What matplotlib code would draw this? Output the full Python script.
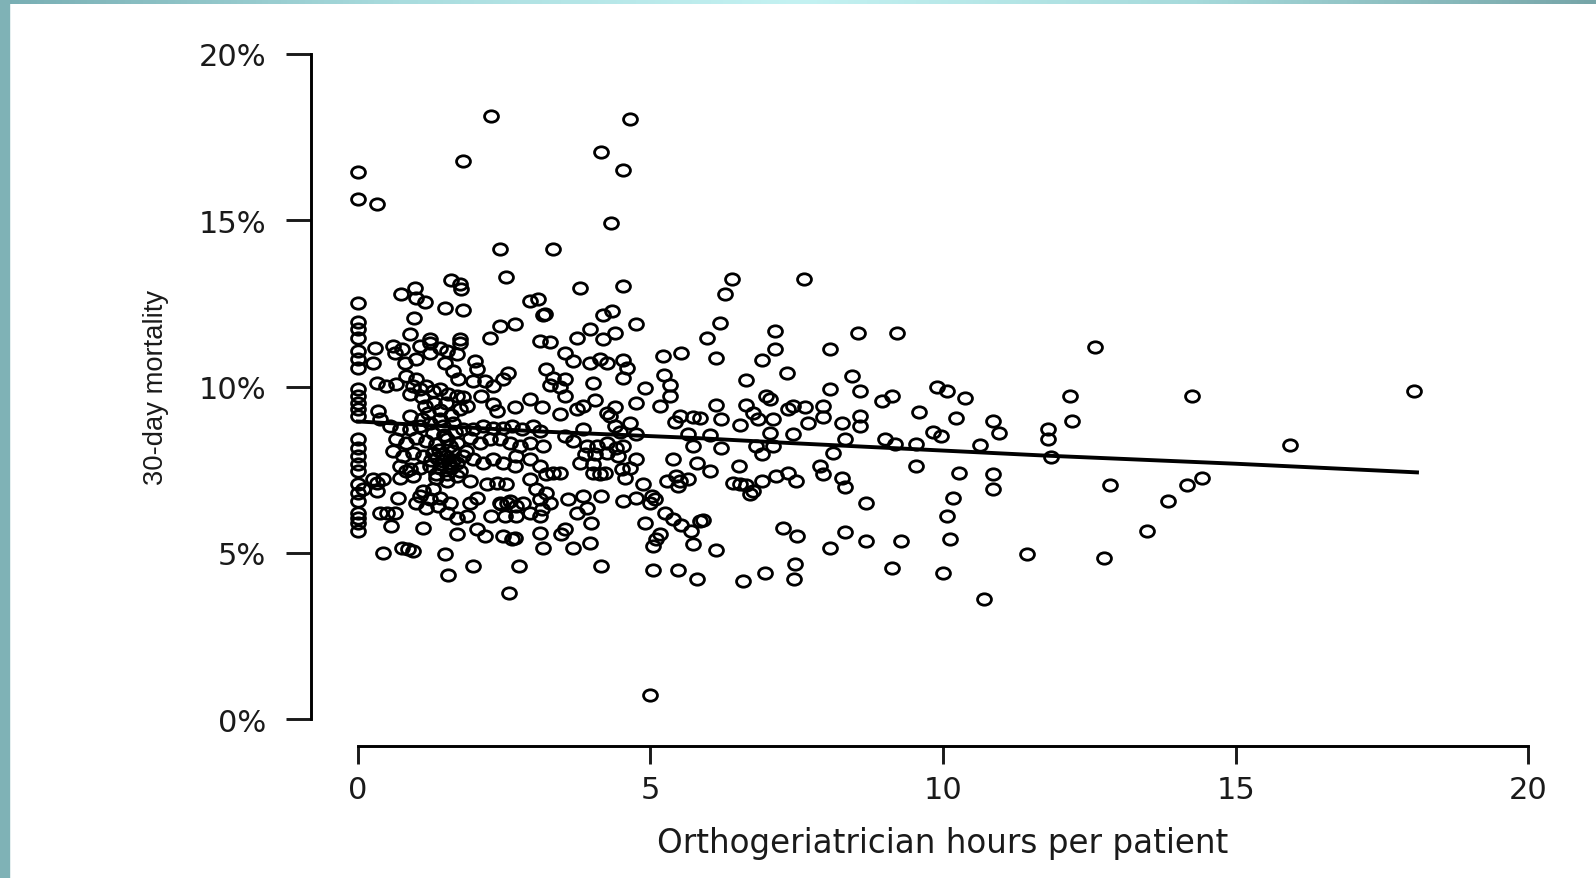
import numpy as np
import matplotlib.pyplot as plt
from matplotlib.path import Path
from matplotlib.patches import Rectangle
from matplotlib.colors import LinearSegmentedColormap
#-----------------------------------------------------------------------------------------#

# hospitals with no orthogeriatrician time (hours = 0)
mort_zero_hours = [16.43, 15.63, 12.50, 11.93, 11.73, 11.47, 11.07, 10.82, 10.57, 9.92,
                   9.72, 9.51, 9.31, 9.11, 8.41, 8.16, 7.91, 7.66, 7.46, 7.06, 6.81,
                   6.56, 6.21, 6.06, 5.91, 5.66]

# (hours per patient, 30-day mortality %) grouped by hours band
band_0_1 = [(0.32, 15.48), (0.09, 6.91), (0.32, 6.86), (0.32, 7.11), (0.26, 7.21), (0.43, 7.21),
            (0.72, 7.26), (0.94, 7.31), (0.83, 7.46), (0.69, 6.66), (0.38, 6.21), (0.50, 6.21),
            (0.63, 6.21), (0.57, 5.81), (0.43, 5.01), (0.75, 5.16), (0.86, 5.11), (0.94, 5.06),
            (0.97, 12.97), (0.73, 12.77), (1.00, 12.67), (0.96, 12.07), (0.89, 11.57), (0.60, 11.22),
            (0.63, 11.02), (0.75, 11.12), (0.29, 11.17), (0.26, 10.72), (0.80, 10.72), (1.00, 10.82),
            (0.32, 10.12), (0.49, 10.02), (0.66, 10.07), (0.83, 10.32), (1.00, 10.22), (0.94, 10.02),
            (0.89, 9.77), (0.35, 9.27), (0.38, 9.01), (0.55, 8.81), (0.72, 8.71), (0.89, 9.11),
            (0.89, 8.71), (0.66, 8.41), (0.83, 8.31), (1.00, 8.46), (0.60, 8.06), (0.78, 7.91),
            (0.94, 8.01), (0.72, 7.61), (0.89, 7.51), (1.00, 6.51)]

band_1_3 = [(1.80, 16.78), (2.27, 18.13), (2.43, 14.12), (2.54, 13.30), (1.60, 13.19), (1.74, 13.07),
            (1.77, 12.92), (1.14, 12.55), (1.49, 12.35), (1.80, 12.29), (2.94, 12.57), (3.08, 12.64),
            (2.43, 11.82), (2.68, 11.87), (1.23, 11.44), (1.74, 11.42), (2.26, 11.47), (1.06, 11.22),
            (1.23, 11.32), (1.40, 11.17), (1.52, 11.07), (1.69, 10.97), (1.74, 11.32), (1.23, 11.02),
            (1.49, 10.72), (1.63, 10.47), (1.71, 10.22), (2.00, 10.77), (2.03, 10.52), (1.97, 10.17),
            (2.57, 10.42), (2.48, 10.22), (2.17, 10.17), (2.31, 10.02), (1.17, 10.02), (1.29, 9.87),
            (1.06, 9.92), (1.09, 9.67), (1.40, 9.92), (1.54, 9.77), (1.69, 9.72), (1.80, 9.67),
            (1.86, 9.42), (1.74, 9.31), (2.11, 9.72), (2.31, 9.47), (2.37, 9.27), (2.68, 9.37),
            (2.94, 9.62), (1.09, 9.01), (1.23, 8.91), (1.40, 9.01), (1.46, 8.81), (1.63, 8.91),
            (1.06, 8.81), (1.80, 8.71), (1.97, 8.71), (2.14, 8.81), (2.31, 8.76), (2.48, 8.76),
            (2.63, 8.81), (2.80, 8.71), (3.00, 8.81), (1.17, 8.36), (1.34, 8.26), (1.52, 8.41),
            (1.69, 8.31), (1.91, 8.46), (2.08, 8.31), (2.26, 8.41), (2.43, 8.41), (2.60, 8.31),
            (2.77, 8.21), (2.94, 8.31), (1.12, 7.91), (1.29, 8.01), (1.46, 7.96), (1.63, 8.06),
            (1.80, 7.91), (1.97, 7.81), (2.14, 7.71), (2.31, 7.81), (2.48, 7.71), (2.68, 7.61),
            (1.06, 7.56), (1.23, 7.61), (1.40, 7.56), (1.57, 7.61), (1.74, 7.46), (1.34, 7.36),
            (1.52, 7.36), (2.71, 7.91), (2.94, 7.81), (1.12, 5.76), (1.49, 4.96), (1.54, 4.33),
            (1.96, 4.61), (2.76, 4.61), (2.59, 3.79), (1.69, 5.56), (2.03, 5.71), (2.17, 5.51),
            (2.48, 5.51), (2.63, 5.41), (2.68, 5.46), (2.28, 6.11), (2.51, 6.11), (2.71, 6.11),
            (1.17, 6.36), (1.37, 6.41), (1.52, 6.21), (1.69, 6.06), (1.86, 6.11), (1.06, 6.71),
            (1.23, 6.61), (1.40, 6.66), (1.57, 6.51), (1.12, 6.86), (1.29, 6.91), (1.91, 6.51),
            (2.03, 6.66), (2.20, 7.06), (2.37, 7.11), (2.54, 7.06), (2.43, 6.51), (2.60, 6.56),
            (2.71, 6.41), (2.83, 6.51), (2.94, 6.21), (1.91, 7.16), (1.69, 7.31), (1.52, 7.16),
            (1.34, 7.26), (2.94, 7.21), (3.05, 6.91), (1.45, 7.75), (1.55, 7.70), (1.62, 7.80),
            (1.35, 7.85), (1.50, 7.90), (1.40, 9.30), (1.30, 9.50), (1.20, 9.20), (1.50, 9.50),
            (2.45, 6.48), (2.55, 6.50), (1.38, 8.10), (1.58, 8.20), (1.28, 8.60), (1.48, 8.55),
            (1.66, 8.62), (1.85, 8.05), (1.42, 7.68), (1.60, 7.55), (1.25, 7.80), (1.70, 7.70),
            (1.15, 9.40), (1.60, 9.15)]

band_3_5 = [(4.16, 17.05), (4.65, 18.05), (4.53, 16.50), (4.32, 14.92), (3.33, 14.12), (3.80, 12.95),
            (4.53, 13.02), (3.17, 12.15), (4.19, 12.14), (4.35, 12.27), (4.75, 11.87), (3.20, 12.17),
            (3.96, 11.74), (3.74, 11.47), (4.39, 11.62), (4.19, 11.42), (3.11, 11.37), (3.28, 11.34),
            (3.54, 11.02), (3.68, 10.77), (3.96, 10.72), (4.14, 10.82), (4.25, 10.72), (4.53, 10.80),
            (4.60, 10.57), (4.53, 10.25), (3.22, 10.52), (3.34, 10.27), (3.54, 10.24), (3.28, 10.04),
            (3.45, 9.97), (3.54, 9.71), (4.02, 10.12), (4.90, 9.94), (4.76, 9.51), (4.05, 9.59),
            (3.14, 9.37), (3.45, 9.16), (3.74, 9.31), (3.85, 9.40), (4.25, 9.21), (4.39, 9.37),
            (4.31, 9.11), (4.65, 8.89), (3.85, 8.71), (4.76, 8.56), (4.39, 8.81), (4.48, 8.63),
            (3.54, 8.51), (3.68, 8.36), (3.11, 8.66), (3.91, 8.21), (4.08, 8.21), (4.25, 8.31),
            (4.42, 8.16), (4.53, 8.21), (3.88, 7.96), (4.05, 7.96), (4.25, 7.99), (4.45, 7.91),
            (3.79, 7.71), (4.02, 7.66), (4.22, 7.41), (4.14, 7.36), (4.02, 7.41), (4.76, 7.83),
            (4.65, 7.56), (4.51, 7.51), (4.56, 7.26), (3.11, 7.61), (3.34, 7.41), (3.45, 7.41),
            (3.22, 7.36), (4.88, 7.06), (3.22, 6.81), (3.11, 6.61), (3.14, 6.31), (3.28, 6.51),
            (3.59, 6.61), (3.85, 6.71), (4.16, 6.71), (3.91, 6.36), (3.74, 6.21), (4.53, 6.56),
            (4.76, 6.66), (3.11, 6.11), (3.11, 5.61), (3.17, 5.16), (3.54, 5.71), (3.48, 5.56),
            (3.68, 5.16), (3.96, 5.31), (3.99, 5.91), (4.90, 5.91), (4.16, 4.61), (3.17, 8.21)]

band_5_8 = [(5.02, 6.71), (5.08, 6.61), (5.00, 6.51), (4.99, 0.73), (5.22, 10.92), (5.53, 11.00),
            (5.23, 10.34), (5.33, 10.04), (5.33, 9.71), (5.16, 9.41), (6.19, 11.90), (5.96, 11.47),
            (7.13, 11.67), (7.13, 11.14), (6.90, 10.80), (7.33, 10.40), (6.12, 10.87), (6.64, 10.19),
            (6.12, 9.44), (6.64, 9.44), (6.98, 9.71), (7.04, 9.62), (7.35, 9.31), (7.44, 9.41),
            (6.76, 9.21), (6.84, 9.01), (5.50, 9.11), (5.73, 9.09), (5.84, 9.04), (5.42, 8.92),
            (6.21, 9.01), (6.53, 8.83), (7.10, 9.03), (7.04, 8.61), (7.44, 8.56), (5.64, 8.56),
            (6.02, 8.53), (5.73, 8.21), (6.21, 8.16), (6.81, 8.21), (7.10, 8.21), (6.90, 7.96),
            (5.38, 7.81), (5.79, 7.71), (6.02, 7.46), (6.52, 7.61), (5.28, 7.16), (5.44, 7.31),
            (5.50, 7.16), (5.64, 7.21), (5.47, 7.01), (6.41, 7.11), (6.53, 7.08), (6.64, 7.05),
            (6.76, 6.86), (6.70, 6.76), (6.90, 7.16), (7.15, 7.31), (7.35, 7.41), (7.48, 7.16),
            (5.25, 6.21), (5.39, 6.01), (5.53, 5.83), (5.70, 5.66), (5.90, 5.99), (5.84, 5.96),
            (5.16, 5.56), (5.10, 5.41), (5.05, 5.21), (5.73, 5.26), (6.12, 5.09), (7.27, 5.76),
            (7.50, 5.51), (5.05, 4.49), (5.47, 4.49), (5.79, 4.21), (6.58, 4.16), (6.95, 4.41),
            (7.47, 4.66), (6.40, 13.24), (6.28, 12.78), (7.62, 13.24)]

band_8_up = [(8.54, 11.62), (9.22, 11.62), (8.07, 11.12), (8.44, 10.32), (8.07, 9.92), (8.59, 9.85),
             (9.89, 9.97), (10.06, 9.85), (10.37, 9.65), (8.95, 9.57), (9.12, 9.71), (7.64, 9.37),
             (7.95, 9.41), (7.95, 9.09), (7.70, 8.89), (8.27, 8.89), (8.59, 9.11), (8.59, 8.81),
             (9.59, 9.23), (10.23, 9.04), (10.86, 8.96), (10.96, 8.61), (9.83, 8.63), (9.97, 8.51),
             (8.32, 8.41), (9.01, 8.43), (9.18, 8.26), (9.54, 8.26), (10.64, 8.23), (11.80, 8.71),
             (11.80, 8.41), (8.12, 7.99), (7.89, 7.61), (7.95, 7.36), (8.27, 7.26), (8.32, 6.99),
             (9.54, 7.61), (10.28, 7.41), (10.86, 7.36), (10.86, 6.91), (10.17, 6.64), (8.69, 6.51),
             (10.06, 6.11), (8.32, 5.64), (8.69, 5.36), (9.28, 5.36), (10.12, 5.43), (8.07, 5.16),
             (7.45, 4.21), (9.12, 4.56), (10.00, 4.41), (11.43, 4.96), (10.70, 3.61), (12.60, 11.20),
             (12.17, 9.72), (14.26, 9.72), (18.05, 9.85), (12.20, 8.96), (15.93, 8.23), (11.84, 7.89),
             (12.85, 7.03), (14.42, 7.25), (14.17, 7.03), (13.84, 6.57), (13.48, 5.66), (12.75, 4.86)]

# fitted mortality trend
trend_hours = [0.0, 3.1, 5.8, 7.4, 11.8, 15.0, 18.1]
trend_mort = [8.95, 8.65, 8.45, 8.30, 7.92, 7.68, 7.42]

tick_vals = [0, 5, 10, 15, 20]

#-----------------------------------------------------------------------------------------#

pairs = band_0_1 + band_1_3 + band_3_5 + band_5_8 + band_8_up
hours = np.array([0.0] * len(mort_zero_hours) + [p[0] for p in pairs])
mortality = np.array(mort_zero_hours + [p[1] for p in pairs])

# slightly flattened open circle
circ = Path.unit_circle()
oval = Path(circ.vertices * np.array([1.0, 0.82]), circ.codes)

W, H = 1596, 879
fig = plt.figure(figsize=(W / 100, H / 100), dpi=100)
fig.patch.set_facecolor('white')

# slide frame: teal strip on the left and gradient strip on top
fig.patches.append(Rectangle((0, 0), 9 / W, 1, transform=fig.transFigure,
                             color='#7fb2b6', zorder=0))
band_cmap = LinearSegmentedColormap.from_list('band', ['#78aeb3', '#a9dcde', '#c4f2f2', '#a6dadb', '#76a5a8'])
top = fig.add_axes([0, 1 - 5 / H, 1, 5 / H])
top.imshow(np.linspace(0, 1, 512)[None, :], aspect='auto', cmap=band_cmap)
top.axis('off')

ax = fig.add_axes([311 / W, 1 - 747 / H, (1575 - 311) / W, (747 - 28) / H])
ax.plot(hours, mortality, linestyle='none', marker=oval, ms=10,
        mfc='none', mec='black', mew=2.0)
ax.plot(trend_hours, trend_mort, color='black', lw=2.8)

ax.set_xlim(-0.8, 20.8)
ax.set_ylim(-0.8, 20.8)
for side in ['top', 'right']:
    ax.spines[side].set_visible(False)
ax.spines['left'].set_bounds(0, 20)
ax.spines['bottom'].set_bounds(0, 20)
ax.spines['left'].set_linewidth(2.1)
ax.spines['bottom'].set_linewidth(2.1)

ax.set_xticks(tick_vals)
ax.set_yticks(tick_vals)
ax.set_yticklabels([f'{v}%' for v in tick_vals])
ax.tick_params(axis='y', length=18, width=2.1, pad=14.4, labelsize=22, colors='#1a1a1a')
ax.tick_params(axis='x', length=13, width=2.1, pad=8, labelsize=22, colors='#1a1a1a')

fig.text(943 / W, 1 - 853 / H, 'Orthogeriatrician hours per patient',
         ha='center', va='baseline', fontsize=23.5, color='#1a1a1a')
fig.text(163 / W, 1 - 387.5 / H, '30-day mortality', rotation=90, rotation_mode='anchor',
         ha='center', va='baseline', fontsize=19.7, family='Liberation Sans', color='#1a1a1a')

fig.savefig('out.png', dpi=100)
